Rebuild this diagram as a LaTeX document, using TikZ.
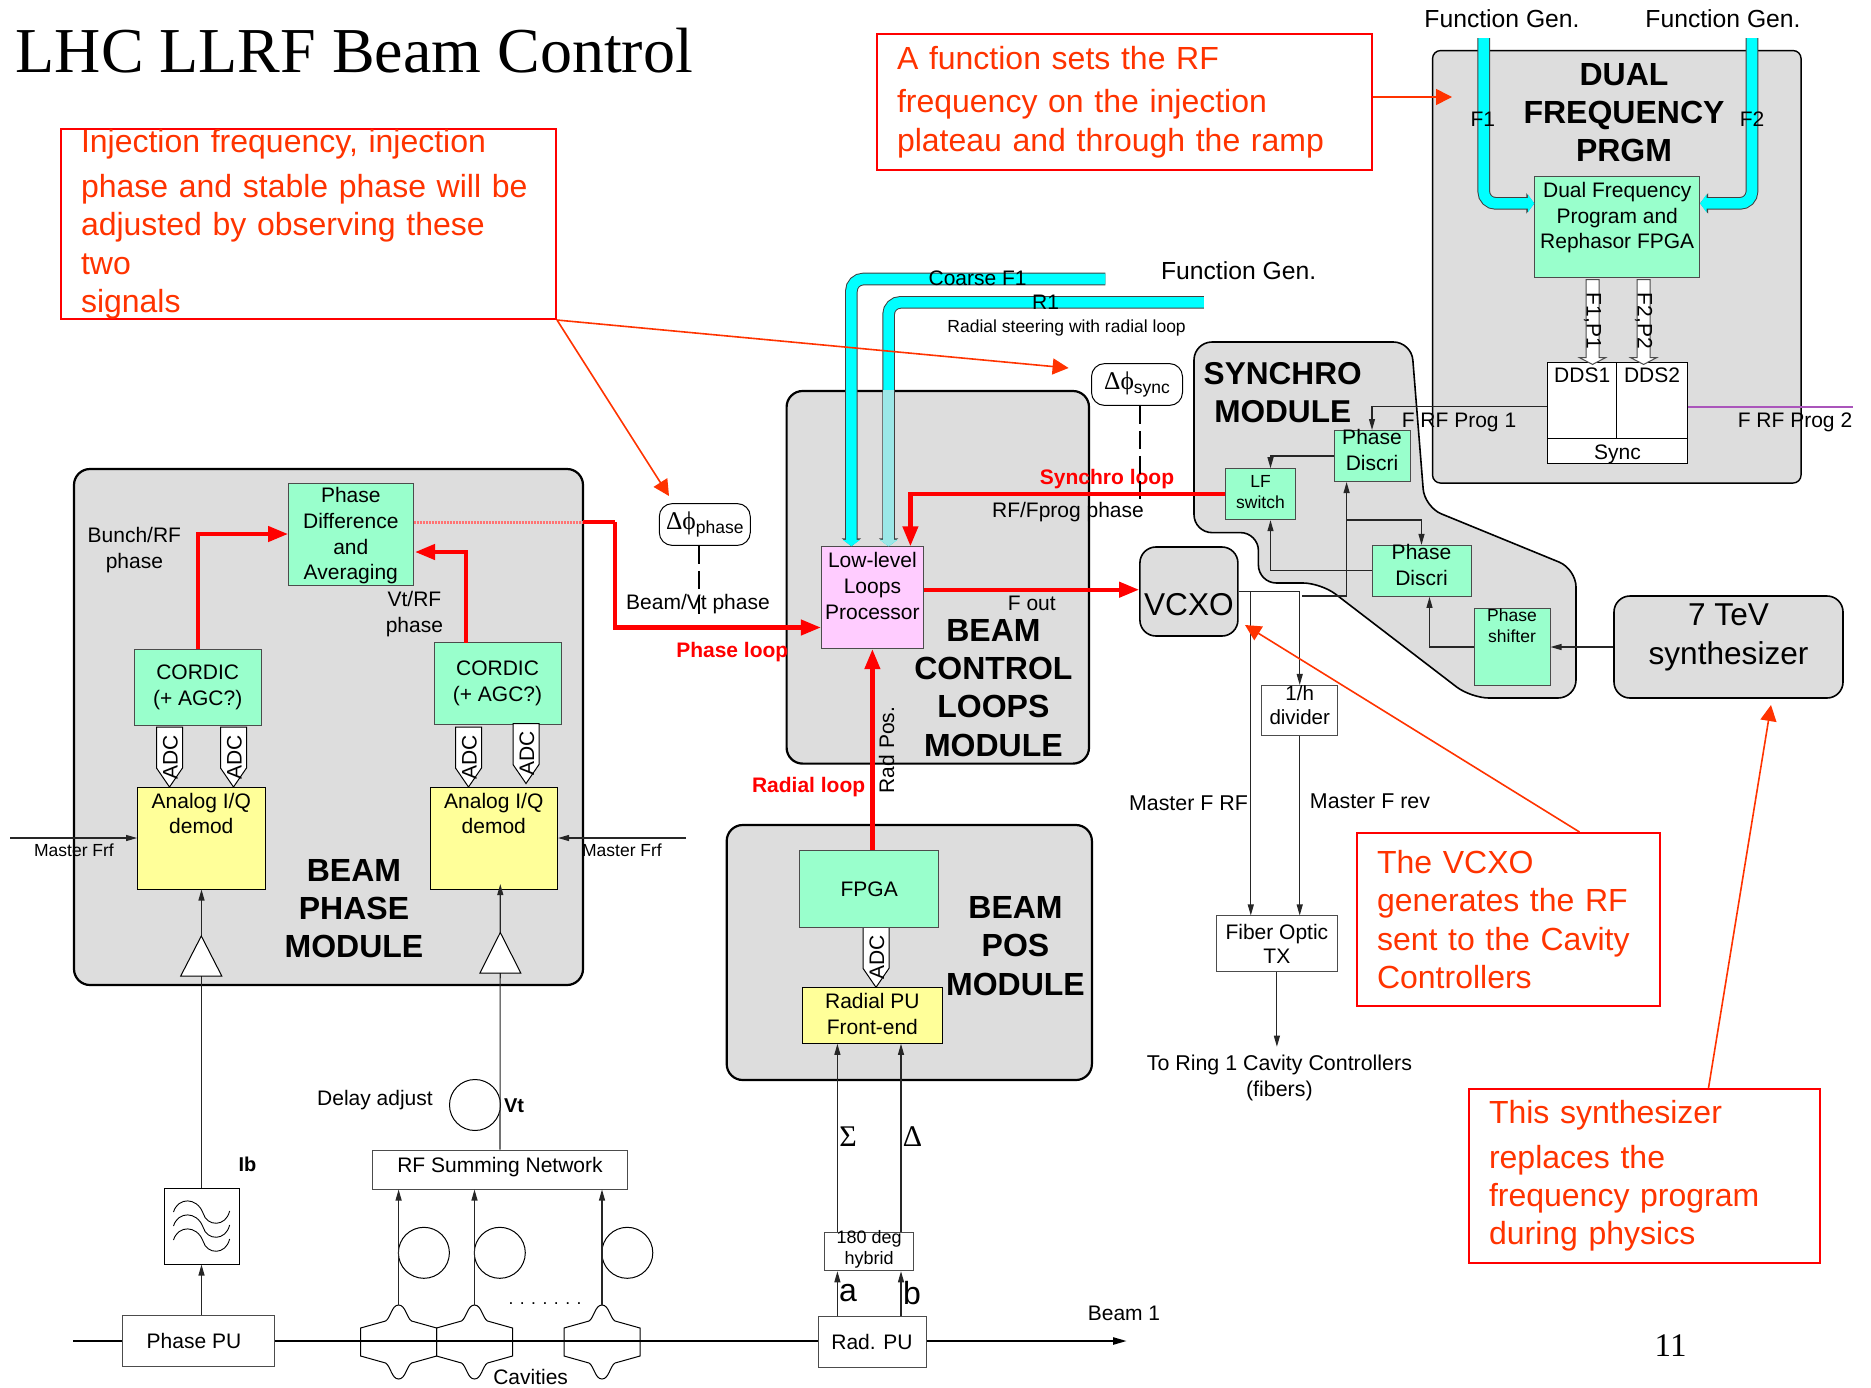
\documentclass[tikz,border=0pt]{standalone}
\usepackage{fontspec}
\setmainfont{Liberation Sans}
\newfontfamily\serifgr{Liberation Serif}
\usetikzlibrary{arrows.meta,positioning,shapes.geometric,shapes.arrows}
\definecolor{mintbox}{HTML}{99FFCC}
\definecolor{yellowbox}{HTML}{FFFF99}
\definecolor{pinkbox}{HTML}{FFCCFF}
\definecolor{notered}{HTML}{FF3300}
\definecolor{modgray}{HTML}{DDDDDD}
\definecolor{bandcyan}{HTML}{00FFFF}
\definecolor{progviolet}{HTML}{AA55BB}
\tikzset{
  boxsize/.style 2 args={minimum width=#1pt,minimum height=#2pt},
  lbl/.style={inner sep=0pt,align=center,font=\fontsize{21}{25.8}\selectfont},
  lblsmall/.style={lbl,font=\fontsize{17.5}{21}\selectfont},
  lblmid/.style={lbl,font=\fontsize{24.7}{28}\selectfont},
  lblwide/.style={lbl,font=\fontsize{21.4}{26}\selectfont},
  lblred/.style={lbl,text=red,font=\bfseries\fontsize{21}{25.5}\selectfont},
  modtitle/.style={lbl,font=\bfseries\fontsize{32}{38.2}\selectfont},
  module/.style={draw=black,line width=2.2pt,fill=modgray,rounded corners=16pt},
  blockbox/.style={lbl,draw=black!70,line width=1pt},
  mintnode/.style={blockbox,fill=mintbox},
  yellownode/.style={blockbox,fill=yellowbox,draw=black},
  whitenode/.style={blockbox,fill=white},
  note/.style={draw=red,line width=2pt,anchor=north west,align=left,inner xsep=20pt,inner ysep=0pt,
    text=notered,font=\fontsize{32}{38.3}\selectfont},
  notearrow/.style={draw=notered,line width=1.6pt,-{Triangle[length=16pt,width=16pt]}},
  thinarrow/.style={draw=black!85,line width=1.1pt,-{Triangle[length=11pt,width=6pt]}},
  redarrow/.style={draw=red,line width=4.2pt,-{Triangle[length=20pt,width=15pt]}},
  ringnode/.style={circle,draw=black,line width=1pt,inner sep=0pt,minimum size=51pt},
  phasetag/.style={draw=black,line width=1pt,fill=white,rounded corners=13pt,inner sep=0pt},
  dashline/.style={draw=black,line width=1.6pt,dash pattern=on 18pt off 7pt},
  bandarrow/.style={preaction={draw=black!75,line width=12.6pt,-{Triangle[length=8pt,width=#1pt+2pt]}},
    draw=bandcyan,line width=10.6pt,-{Triangle[length=6.5pt,width=#1pt]},rounded corners=12pt},
  hollowarrow/.style={single arrow,draw=black!70,line width=1pt,fill=white,inner sep=0pt,rotate=-90,
    minimum height=84.7pt,minimum width=25pt,text height=6pt,text depth=6pt,text width=0pt,
    single arrow head extend=6.5pt,single arrow tip angle=125},
  adcshape/.style={draw=black,line width=1pt,fill=white}
}
\newcommand{\dphi}[1]{{\serifgr\fontsize{25.5}{27}\selectfont Δϕ}\raisebox{-4pt}{\fontsize{17.5}{17.5}\selectfont #1}}
\begin{document}
\begin{tikzpicture}[x=1pt,y=-1pt]
  \useasboundingbox (0,0) rectangle (1871,1387);

  % modules
  \node[module,boxsize={509}{516}] (beamphase) at (328.5,727) {};
  \node[module,boxsize={302.4}{372.6}] (beamctrl) at (937.8,577.3) {};
  \node[module,boxsize={365.2}{255}] (beampos) at (909.3,952.5) {};
  \node[module,boxsize={368.5}{432.5},line width=1.4pt,rounded corners=8pt] (dualmod) at (1616.8,266.8) {};
  \draw[module,line width=1.6pt,rounded corners=18pt] (1194,342) -- (1411.4,342) -- (1424.6,507) -- (1576,569)
    -- (1576,698) -- (1471,698) -- (1321,583) -- (1258.4,583) -- (1258.4,532.6) -- (1194,532.6) -- cycle;
  \node[module,boxsize={98}{89},line width=1.6pt,font=\fontsize{31.6}{36}\selectfont,inner sep=0pt] (vcxo) at (1188.9,591.5) {\raisebox{-24pt}[0pt][0pt]{VCXO}};
  \node[module,boxsize={229}{102},line width=1.6pt,inner sep=0pt,align=center,font=\fontsize{31.6}{39}\selectfont] (synth) at (1728.5,647) {7 TeV\\synthesizer\\[-14pt]\mbox{}};

  % beam line
  \coordinate (beamstart) at (73,1341);
  \coordinate (beamend) at (1127,1341);
  \draw[line width=2.4pt,-{Triangle[length=14pt,width=7pt]}] (beamstart) -- (beamend);
  \node[lbl] (beamone) at (1124,1313) {Beam 1};

  % cavities and their loops
  \foreach \cx/\nm in {398.6/cavA,474.5/cavB,602/cavC}{
    \draw[line width=1pt] (\cx-38,1328) -- (\cx-13,1321) .. controls (\cx-8,1318) and (\cx-7,1305) .. (\cx,1305)
      .. controls (\cx+7,1305) and (\cx+8,1318) .. (\cx+13,1321) -- (\cx+38,1328) -- (\cx+38,1356) -- (\cx+13,1363)
      .. controls (\cx+8,1366) and (\cx+7,1379) .. (\cx,1379) .. controls (\cx-7,1379) and (\cx-8,1366) .. (\cx-13,1363)
      -- (\cx-38,1356) -- cycle;
    \coordinate (\nm) at (\cx,1305);
    \node[ringnode] at (\cx+25.3,1252.8) {};
  }
  \node[lbl] (cavities) at (530.6,1376.7) {Cavities};
  \node[lblsmall] (cavdots) at (545,1304) {. . . . . . .};

  % pickups
  \node[whitenode,boxsize={152}{51}] (phasepu) at (198,1340.5) {Phase PU\hspace{8pt}};
  \node[whitenode,boxsize={108}{51}] (radpu) at (872,1342.2) {Rad. PU};
  \node[whitenode,boxsize={75}{76},draw=black] (filter) at (201.5,1226) {};
  \foreach \dy in {0,14,28}{
    \draw[line width=.9pt] (173.5,1212+\dy) .. controls (178,1197+\dy) and (197,1197+\dy) .. (203,1213+\dy)
      .. controls (207,1227+\dy) and (226,1227+\dy) .. (229.6,1211+\dy);
  }
  \node[whitenode,boxsize={255}{39},text depth=9pt] (rfsum) at (500,1169.5) {RF Summing Network};
  \node[whitenode,boxsize={89.3}{38.7},font=\fontsize{18}{21.5}\selectfont] (hybrid) at (869.2,1251.4) {\mbox{}\\[-12.5pt]180 deg\\hybrid};
  \node[ringnode] (delay) at (475,1105) {};
  \node[lbl] (delaylbl) at (375,1100) {Delay adjust};
  \node[lbl,font=\bfseries\fontsize{20}{24}\selectfont] (vtlbl) at (514,1106) {Vt};
  \node[lbl,font=\bfseries\fontsize{20}{24}\selectfont] (iblbl) at (247.4,1164) {Ib};

  % beam phase module
  \node[mintnode,boxsize={124.4}{102}] (phasediff) at (350.8,534) {Phase\\Difference\\and\\[-0.5pt]Averaging\\[-25pt]\mbox{}};
  \node[mintnode,boxsize={126.6}{76}] (cordicL) at (197.7,687.5) {CORDIC\\(+ AGC?)};
  \node[mintnode,boxsize={127}{82.5}] (cordicR) at (497.5,683.7) {CORDIC\\(+ AGC?)};
  \node[yellownode,boxsize={127.4}{102}] (analogL) at (201.3,838) {Analog I/Q\\demod\\[23.5pt]\mbox{}};
  \node[yellownode,boxsize={127.5}{102}] (analogR) at (493.8,838) {Analog I/Q\\demod\\[23.5pt]\mbox{}};
  \foreach \cx/\ty/\nm in {169.5/727/adcA,233.5/727/adcB,468.5/727/adcC,526/723.5/adcD,876/927.3/adcE}{
    \draw[adcshape] (\cx-13,\ty) -- (\cx+13,\ty) -- (\cx+13,\ty+41) -- (\cx,\ty+60) -- (\cx-13,\ty+41) -- cycle;
    \node[lbl,rotate=90] (\nm) at (\cx+1,\ty+30) {ADC};
  }
  \node[modtitle] (phasetitle) at (354,908.7) {BEAM\\PHASE\\MODULE};
  \node[lbl] (bunchlbl) at (134.4,550.4) {Bunch/RF\\phase};
  \node[lbl] (vtrflbl) at (414.4,614.4) {Vt/RF\\phase};
  \node[lblsmall] (frfL) at (74,850) {Master Frf};
  \node[lblsmall] (frfR) at (622,850) {Master Frf};
  \coordinate (frfLin) at (10,838);
  \coordinate (frfRin) at (686,838);
  \draw[thinarrow] (frfLin) -- (frfLin -| analogL.west);
  \draw[thinarrow] (frfRin) -- (frfRin -| analogR.east);
  \draw[thinarrow] (filter.north) -- (filter.north |- analogL.south);
  \draw[thinarrow] (filter.south |- phasepu.north) -- (filter.south);
  \coordinate (vtin) at (500.3,884);
  \draw[thinarrow] (rfsum.north) -- (vtin);
  \foreach \nm in {cavA,cavB,cavC}{
    \draw[thinarrow] (\nm) -- (\nm |- rfsum.south);
  }
  \draw[line width=1pt,fill=white] (180.7,976) -- (201.3,936) -- (221.8,976) -- cycle;
  \draw[line width=1pt,fill=white] (480,973) -- (500.3,932.5) -- (520.8,973) -- cycle;
  \draw[redarrow] (cordicL.north) |- (phasediff.west);
  \coordinate (vtphase) at (465.8,642.5);
  \coordinate (vtphaseend) at (415,552);
  \draw[redarrow] (vtphase) |- (vtphaseend);

  % beam control loops module
  \node[blockbox,fill=pinkbox,boxsize={102}{101.8}] (lowlevel) at (872.4,597.7) {Low-level\\Loops\\Processor\\[-2pt]\mbox{}};
  \coordinate (coarsein) at (1105.3,279);
  \coordinate (radin) at (1203.8,302.3);
  \draw[bandarrow=17] (coarsein) -| ([xshift=-21pt]lowlevel.north);
  \draw[bandarrow=17] (radin) -| ([xshift=16.2pt]lowlevel.north);
  \path ([xshift=16.2pt]lowlevel.north) coordinate (radtip);
  \draw[line width=11pt,draw=bandcyan!30!modgray,-{Triangle[length=6.5pt,width=17pt]}] (radtip |- beamctrl.north) -- (radtip);
  \node[lbl] (coarselbl) at (977.6,278.6) {Coarse F1};
  \node[lbl] (ronelbl) at (1045.6,301.8) {R1};
  \node[lblsmall] (steerlbl) at (1066.6,328) {Radial steering with radial loop};
  \node[lblmid] (fgenC) at (1238.6,271) {Function Gen.};
  \node[modtitle] (ctrltitle) at (993.4,688) {BEAM\\CONTROL\\LOOPS\\MODULE};
  \node[lbl] (foutlbl) at (1031.8,603.6) {F out};
  \node[lbl,rotate=90] (radposlbl) at (886.7,750) {Rad Pos.};
  \node[lblred] (radloop) at (808.6,787) {Radial loop};
  \node[lblred] (phaseloop) at (732.3,652.4) {Phase loop};
  \node[lblred] (synloop) at (1107,479.2) {Synchro loop};
  \node[lbl] (fproglbl) at (1068,512.4) {RF/Fprog phase};
  \node[lbl] (beamvtlbl) at (698,604.2) {Beam/Vt phase};
  \node[phasetag,boxsize={91}{41.8}] (dphase) at (704.8,524.5) {\dphi{phase}};
  \node[phasetag,boxsize={91}{41.8}] (dsync) at (1137,384.5) {\dphi{sync}};
  \coordinate (dphaseend) at (698.9,616);
  \coordinate (dsyncend) at (1139.7,499);
  \draw[dashline] (dphaseend |- dphase.south) -- (dphaseend);
  \draw[dashline] (dsyncend |- dsync.south) -- (dsyncend);

  % beam position module
  \node[mintnode,boxsize={139.5}{76.6}] (fpga) at (869.2,889) {FPGA};
  \node[yellownode,boxsize={139.7}{56}] (radfront) at (872.4,1015.3) {Radial PU\\Front-end\\[-22.8pt]\mbox{}};
  \node[modtitle] (postitle) at (1015.5,946) {BEAM\\POS\\MODULE};
  \coordinate (sumout) at ([xshift=-31.8pt]hybrid.north);
  \coordinate (diffout) at ([xshift=31.8pt]hybrid.north);
  \draw[thinarrow] (sumout) -- (sumout |- radfront.south);
  \draw[thinarrow] (diffout) -- (diffout |- radfront.south);
  \draw[thinarrow] (sumout |- radpu.north) -- (sumout |- hybrid.south);
  \draw[thinarrow] (diffout |- radpu.north) -- (diffout |- hybrid.south);
  \node[lbl,font=\serifgr\fontsize{30}{32}\selectfont] (sumlbl) at (848,1137) {Σ};
  \node[lbl,font=\serifgr\fontsize{30}{32}\selectfont] (diflbl) at (912.6,1137) {Δ};
  \node[lbl,font=\fontsize{32}{34}\selectfont] (albl) at (848,1293) {a};
  \node[lbl,font=\fontsize{32}{34}\selectfont] (blbl) at (912,1293) {b};

  % dual frequency programme
  \node[mintnode,boxsize={164.8}{101}] (dualfpga) at (1617.2,227.4) {Dual Frequency\\Program and\\Rephasor FPGA\\[-2pt]\mbox{}};
  \node[modtitle] (dualtitle) at (1624,112.8) {DUAL\\FREQUENCY\\PRGM};
  \node[whitenode,boxsize={69.2}{75.8},draw=black] (ddsone) at (1582.2,400.6) {DDS1\\[24.5pt]\mbox{}};
  \node[whitenode,boxsize={70.5}{75.8},draw=black] (ddstwo) at (1652,400.6) {DDS2\\[24.5pt]\mbox{}};
  \node[whitenode,boxsize={139.7}{25.5},draw=black,text height=16pt,text depth=0pt] (ddssync) at (1617.4,451.2) {Sync};
  \coordinate (fonein) at (1483.7,38);
  \coordinate (ftwoin) at (1752,38);
  \draw[bandarrow=18] (fonein) |- ([yshift=24pt]dualfpga.west);
  \draw[bandarrow=18] (ftwoin) |- ([yshift=24pt]dualfpga.east);
  \node[lbl] (fonelbl) at (1482.8,119.4) {F1};
  \node[lbl] (ftwolbl) at (1752,119.4) {F2};
  \node[lblmid] (fgenA) at (1502,19) {Function Gen.};
  \node[lblmid] (fgenB) at (1723,19) {Function Gen.};
  \node[hollowarrow] (fparrow) at (1592.5,320.4) {};
  \node[hollowarrow] (fqarrow) at (1643.6,320.4) {};
  \node[lbl,rotate=-90] (fponelbl) at (1592.5,321) {F1,P1};
  \node[lbl,rotate=-90] (fptwolbl) at (1643.6,321) {F2,P2};
  \node[lbl] (progone) at (1459,422.4) {F RF Prog 1};
  \node[lbl] (progtwo) at (1795,422.4) {F RF Prog 2};
  \coordinate (progtwoend) at (1853,406.8);
  \draw[draw=progviolet,line width=1.4pt] (progtwoend -| ddstwo.east) -- (progtwoend);

  % synchro module
  \node[modtitle,font=\bfseries\fontsize{31.6}{38.2}\selectfont] (syntitle) at (1282.7,393) {SYNCHRO\\MODULE};
  \node[mintnode,boxsize={76}{51}] (discA) at (1372,456) {\mbox{}\\[-23pt]Phase\\Discri};
  \node[mintnode,boxsize={99}{51}] (discB) at (1421.5,570.9) {\mbox{}\\[-23pt]Phase\\Discri};
  \node[mintnode,boxsize={70}{51},lblsmall] (lfswitch) at (1260.5,494.2) {LF\\switch\\[-17pt]\mbox{}};
  \node[mintnode,boxsize={76}{76.7},lblsmall] (shifter) at (1512,647) {\mbox{}\\[-19pt]Phase\\shifter\\[11pt]\mbox{}};
  \draw[thinarrow] ([yshift=-6.2pt]ddsone.west) -| (discA.north);
  \draw[thinarrow] (discA.west) -| ([xshift=10pt]lfswitch.north);
  \draw[thinarrow] (discB.west) -| ([xshift=10pt]lfswitch.south);
  \draw[thinarrow] (shifter.west) -| ([xshift=8pt]discB.south);
  \draw[thinarrow] (synth.west) -- (shifter.east);
  \coordinate (discfeed) at (1302,596);
  \coordinate (discbranch) at (1346.6,520);
  \draw[thinarrow] (discfeed) -| ([xshift=-25.4pt]discA.south);
  \draw[thinarrow] (discbranch) -| (discB.north);
  \draw[redarrow] (lfswitch.west) -| ([xshift=38pt]lowlevel.north);

  % vcxo outputs
  \node[whitenode,boxsize={76.5}{50.5},font=\fontsize{20.5}{23.5}\selectfont] (divider) at (1299.7,710.7) {\mbox{}\\[-20pt]1/h\\divider};
  \node[whitenode,boxsize={121}{55.7},font=\fontsize{21}{24}\selectfont] (fiber) at (1276.9,943.8) {Fiber Optic\\TX};
  \coordinate (rfbranch) at (1250.8,591.5);
  \draw[thinarrow] (vcxo.east) -| (divider.north);
  \draw[thinarrow] (rfbranch) -- (rfbranch |- fiber.north);
  \draw[thinarrow] (divider.south) -- (divider.south |- fiber.north);
  \coordinate (fiberout) at (1276.9,1046.7);
  \draw[thinarrow] (fiber.south) -- (fiberout);
  \node[lblwide] (mfrf) at (1188.5,803) {Master F RF};
  \node[lblwide] (mfrev) at (1370,801) {Master F rev};
  \node[lblwide] (toring) at (1279.4,1078) {To Ring 1 Cavity Controllers\\(fibers)};

  % loops in red
  \coordinate (pdout) at ([yshift=12pt]phasediff.east);
  \coordinate (pdexit) at (583,522);
  \coordinate (pdturn) at (615,522);
  \draw[draw=red!55,line width=3pt,dash pattern=on 2pt off 1pt] (pdout) -- (pdexit);
  \draw[draw=red,line width=4.2pt] (pdexit) -- (pdturn);
  \draw[redarrow] (pdturn) |- ([yshift=-29.8pt]lowlevel.west);
  \coordinate (lowout) at ([yshift=8pt]lowlevel.east);
  \draw[redarrow] (lowout) -- (lowout -| vcxo.west);
  \draw[redarrow] (lowlevel.south |- fpga.north) -- (lowlevel.south);

  % notes
  \node[note,boxsize={495}{173},text width=455pt] (noteinj) at (60,128) {\vspace*{7pt}Injection frequency, injection\\phase and stable phase will be\\adjusted by observing these two\\signals};
  \node[note,boxsize={495}{136},text width=455pt] (notefunc) at (876,33) {\vspace*{5pt}A function sets the RF\\frequency on the injection\\plateau and through the ramp};
  \node[note,boxsize={303}{173},text width=263pt] (notevcxo) at (1356,832) {The VCXO\\generates the RF\\sent to the Cavity\\Controllers};
  \node[note,boxsize={351}{174},text width=311pt] (notesyn) at (1468,1088) {\vspace*{6pt}This synthesizer\\replaces the\\frequency program\\during physics};
  \coordinate (tipA) at (669,496);
  \coordinate (tipB) at (1068.6,368);
  \coordinate (tipC) at (1452,97);
  \coordinate (tipD) at (1245,625);
  \coordinate (tipE) at (1771,705);
  \draw[notearrow] (noteinj.south east) -- (tipA);
  \draw[notearrow] (noteinj.south east) -- (tipB);
  \draw[notearrow] (notefunc.east |- tipC) -- (tipC);
  \draw[notearrow] ([xshift=71pt]notevcxo.north) -- (tipD);
  \draw[notearrow] ([xshift=64pt]notesyn.north) -- (tipE);

  % title and page number
  \node[inner sep=0pt,anchor=west,font=\serifgr\fontsize{64}{70}\selectfont] (title) at (15.5,51) {LHC LLRF Beam Control};
  \node[inner sep=0pt,font=\serifgr\fontsize{33}{36}\selectfont] (pagenum) at (1670.6,1346) {11};
\end{tikzpicture}
\end{document}
